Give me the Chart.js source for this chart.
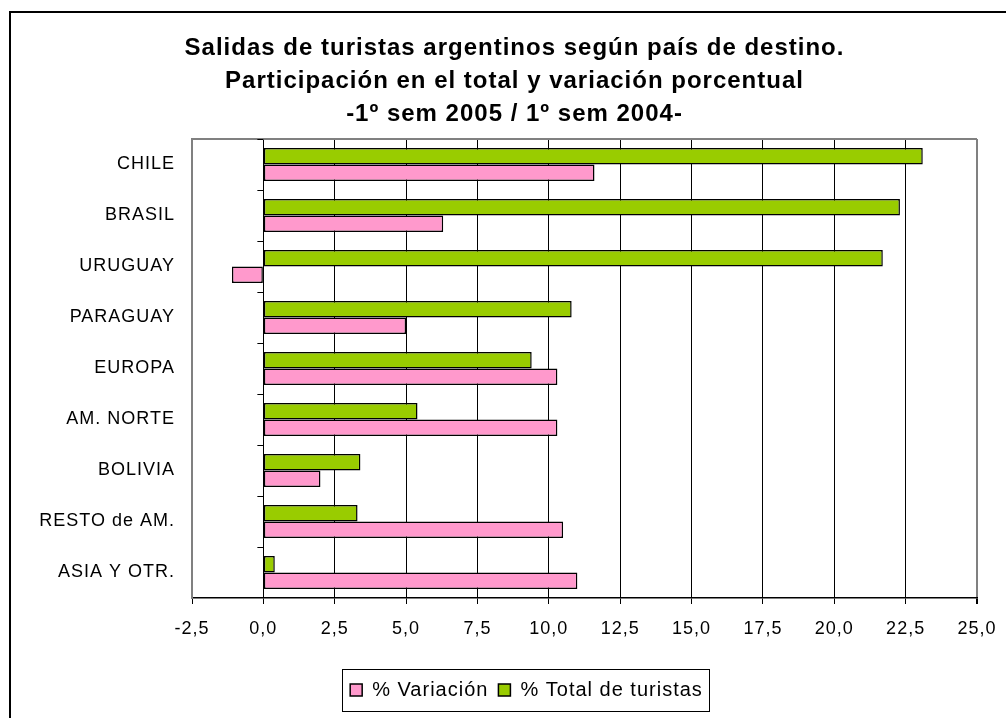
<!DOCTYPE html>
<html lang="es">
<head>
  <meta charset="UTF-8">
  <title>Salidas de turistas argentinos</title>
  <script src="https://cdn.jsdelivr.net/npm/chart.js"></script>
  <style>
    html, body { margin: 0; padding: 0; background: #fff; overflow: hidden; }
    .wrap { position: relative; width: 1006px; height: 718px; }
    .frame {
      position: absolute; left: 9px; top: 11px; width: 1020px; height: 730px;
      border: 2px solid #000; box-sizing: border-box;
    }
    canvas { position: absolute; left: 0; top: 0; }
  </style>
</head>
<body>
<div class="wrap">
  <div class="frame"></div>
  <canvas id="chart" width="1006" height="718"></canvas>
</div>

<script>
  const categories = ['CHILE', 'BRASIL', 'URUGUAY', 'PARAGUAY', 'EUROPA', 'AM. NORTE', 'BOLIVIA', 'RESTO de AM.', 'ASIA Y OTR.'];
  const totalTuristas = [23.1, 22.3, 21.7, 10.8, 9.4, 5.4, 3.4, 3.3, 0.4];
  const variacion = [11.6, 6.3, -1.1, 5.0, 10.3, 10.3, 2.0, 10.5, 11.0];
  const xTicks = [-2.5, 0, 2.5, 5, 7.5, 10, 12.5, 15, 17.5, 20, 22.5, 25];
  const titleLines = [
    'Salidas de turistas argentinos según país de destino.',
    'Participación en el total y variación porcentual',
    '-1º sem 2005 / 1º sem 2004-'
  ];

  const FONT = "'Liberation Sans', Arial, sans-serif";

  // the old chart's text runs a little wider than Liberation Sans
  const spacing = {
    id: 'spacing',
    beforeLayout(chart) { chart.ctx.letterSpacing = '1px'; },
    beforeDraw(chart) { chart.ctx.letterSpacing = '1px'; }
  };

  // frame on top, small ticks on the zero line, box round the legend
  const extras = {
    id: 'extras',
    afterLayout(chart) {
      chart.titleBlock.left += 26;
      chart.titleBlock.right += 26;
      chart.legend.left += 38;
      chart.legend.right += 38;
    },
    afterDraw(chart) {
      const ctx = chart.ctx;
      const area = chart.chartArea;
      const x = chart.scales.x, y = chart.scales.y;
      ctx.save();
      ctx.strokeStyle = '#808080';
      ctx.lineWidth = 2;
      ctx.beginPath();
      ctx.moveTo(area.left, area.top);
      ctx.lineTo(area.right, area.top);
      ctx.stroke();

      const x0 = x.getPixelForValue(0);
      ctx.strokeStyle = '#000';
      ctx.lineWidth = 1;
      for (let i = 0; i < categories.length; i++) {
        const py = Math.round(y.getPixelForValue(i - 0.5)) + 0.5;
        ctx.beginPath();
        ctx.moveTo(x0 - 6, py);
        ctx.lineTo(x0, py);
        ctx.stroke();
      }

      const lg = chart.legend;
      const pad = lg.options.labels.padding;
      const w = lg.lineWidths[0];
      const sx = (lg.left + pad + lg.right - w) / 2;
      ctx.strokeRect(Math.round(sx - 8) + 0.5, Math.round(lg.top) - 0.5, Math.round(w + 4), 42);
      ctx.restore();
    }
  };

  new Chart(document.getElementById('chart'), {
    type: 'bar',
    data: {
      labels: categories,
      datasets: [{
        label: '% Total de turistas',
        data: totalTuristas,
        backgroundColor: '#99CC00',
        borderColor: '#000',
        borderWidth: 1.5,
        borderSkipped: false
      }, {
        label: '% Variación',
        data: variacion,
        backgroundColor: '#FF99CC',
        borderColor: '#000',
        borderWidth: 1.5,
        borderSkipped: false
      }]
    },
    options: {
      indexAxis: 'y',
      responsive: false,
      animation: false,
      devicePixelRatio: 1,
      categoryPercentage: 0.65,
      barPercentage: 1,
      layout: { padding: { top: 32, right: 29, bottom: 8, left: 0 } },
      scales: {
        x: {
          min: -2.5,
          max: 25,
          afterBuildTicks: s => { s.ticks = xTicks.map(v => ({ value: v })); },
          afterFit: s => { s.height = 72; s.paddingRight = 0; s.paddingLeft = 0; },
          grid: {
            color: c => c.tick.value === 25 ? '#808080' : (c.tick.value === -2.5 ? 'rgba(0,0,0,0)' : '#000'),
            lineWidth: c => c.tick.value === 25 ? 2 : 1,
            tickColor: '#000',
            tickLength: 6
          },
          border: { color: '#000', width: 1.5 },
          ticks: {
            color: '#000',
            padding: 14,
            maxRotation: 0,
            font: { family: FONT, size: 18 },
            callback: v => v.toFixed(1).replace('.', ',')
          }
        },
        y: {
          afterFit: s => { s.width = 192; },
          grid: { display: false, drawTicks: false },
          border: { color: '#808080', width: 2 },
          ticks: {
            color: '#000',
            padding: 17,
            font: { family: FONT, size: 18 }
          }
        }
      },
      plugins: {
        title: {
          display: true,
          text: titleLines,
          color: '#000',
          font: { family: FONT, size: 24, weight: 'bold', lineHeight: 33 / 24 },
          padding: { top: 0, bottom: 8 }
        },
        legend: {
          position: 'bottom',
          reverse: true,
          labels: {
            color: '#000',
            boxWidth: 12,
            boxHeight: 12,
            padding: 10,
            font: { family: FONT, size: 20 }
          }
        },
        tooltip: { enabled: false }
      }
    },
    plugins: [spacing, extras]
  });
</script>
</body>
</html>
